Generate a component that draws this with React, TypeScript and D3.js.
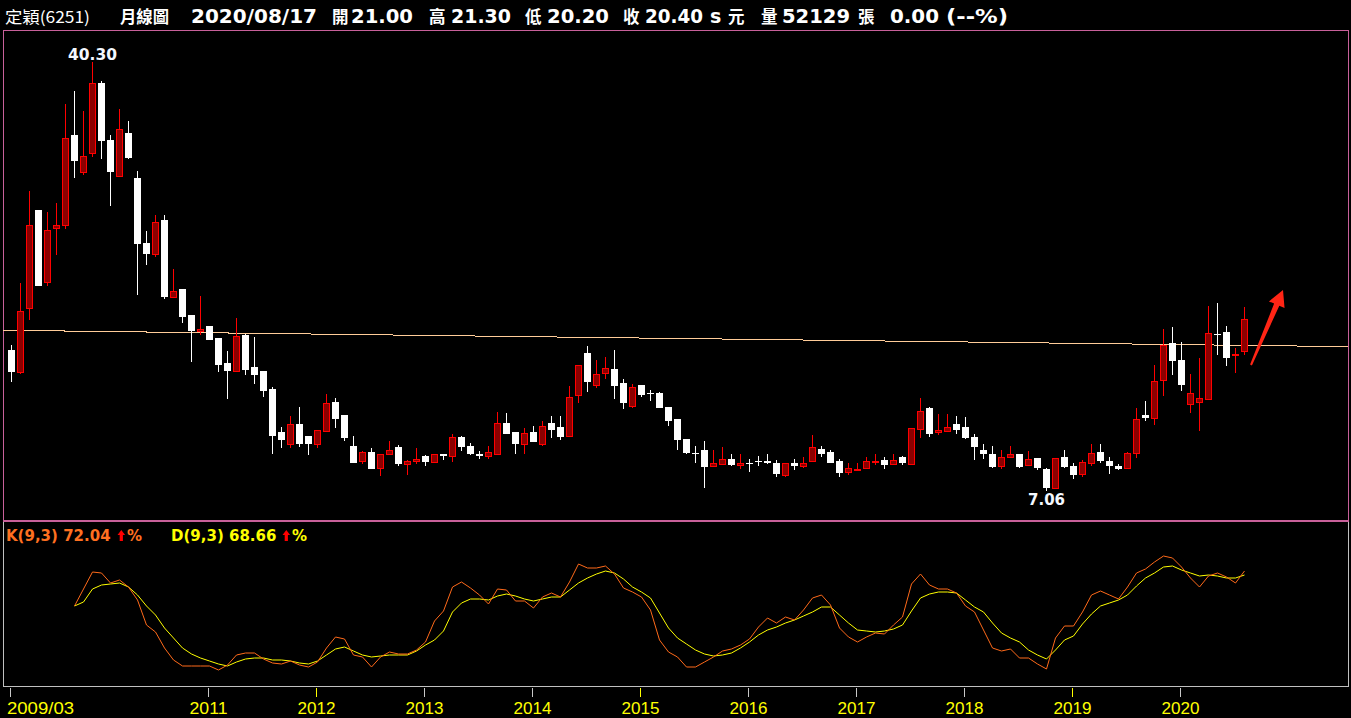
import React, { useEffect } from 'react';
import * as d3 from 'd3';

// ---- categories: monthly candles 2009/03 .. 2020/08
const months: string[] = [];
for (let yr = 2009, m = 3; yr < 2020 || (yr === 2020 && m <= 8); ) {
  months.push(`${yr}/${String(m).padStart(2, '0')}`);
  m++;
  if (m > 12) { m = 1; yr++; }
}

// ---- OHLC series
const openP = [17.93,16.25,21.25,28.81,23.27,27.46,27.69,34.63,31.78,33.26,38.67,34.24,31.47,34.79,31.29,26.24,25.44,28.03,22.07,22.67,
20.65,19.41,19.80,18.86,16.92,16.33,19.10,16.61,16.30,14.90,11.56,10.63,12.19,11.25,10.63,11.67,13.89,12.88,10.48,9.34,
10.01,8.84,9.88,10.40,9.13,9.34,9.70,9.26,9.86,9.73,11.18,10.48,9.93,9.70,9.93,12.26,11.56,10.63,11.56,10.63,
12.26,11.95,11.28,14.46,17.70,15.24,16.17,16.46,15.37,13.61,15.21,14.60,14.59,13.51,12.57,11.02,10.00,10.17,8.95,9.10,
9.47,9.03,9.20,9.33,9.31,9.23,8.25,9.23,8.95,9.34,10.30,10.01,9.31,8.48,8.72,8.77,9.32,9.39,9.10,9.62,
9.10,11.82,13.43,11.56,11.67,12.19,11.95,11.18,10.24,9.93,8.95,9.68,9.93,9.03,9.60,8.74,7.27,9.68,8.98,8.36,
9.21,10.07,9.37,8.98,8.82,9.99,12.88,12.71,15.66,18.53,17.21,13.79,13.95,14.15,19.20,19.33,17.60,17.88];
const highP = [18.32,23.19,30.28,28.81,28.63,29.33,37.04,38.05,36.49,40.30,38.82,34.63,36.65,35.72,31.83,27.17,28.42,28.42,24.22,22.67,
20.70,22.13,19.80,18.86,17.85,20.42,19.17,18.94,16.30,15.06,11.95,12.81,13.51,11.25,11.72,14.52,14.21,12.88,11.25,10.09,
10.32,9.93,10.87,10.56,9.39,10.32,9.78,9.93,9.93,11.41,11.25,10.71,10.09,10.48,13.12,13.04,11.56,11.87,12.03,12.42,
12.81,12.81,15.14,16.77,18.24,17.16,17.39,17.93,15.68,15.29,15.21,14.83,14.67,13.51,12.57,11.02,10.55,10.87,10.17,10.40,
9.86,9.86,9.54,9.70,9.93,9.39,9.23,9.47,9.62,11.33,10.55,10.17,9.47,9.16,9.23,9.62,9.86,9.62,9.86,9.70,
11.87,14.21,13.51,12.96,12.96,12.81,12.73,11.41,10.63,10.48,10.17,10.55,9.93,10.09,9.60,8.82,9.60,10.22,9.21,9.44,
10.69,10.69,9.68,9.13,10.07,13.43,13.97,16.77,19.56,19.72,18.55,16.07,17.37,21.35,21.58,19.80,18.09,21.30];
const lowP = [15.47,16.12,20.32,22.93,22.93,25.31,27.35,31.32,31.55,32.95,32.79,29.14,31.47,32.79,22.23,24.56,25.18,21.89,22.07,20.05,
17.02,19.10,18.71,16.25,14.13,16.25,15.99,15.29,14.28,9.86,10.32,10.32,10.40,9.78,10.32,11.61,11.87,10.87,9.23,9.08,
8.69,8.15,9.88,8.95,8.25,9.10,8.95,9.18,9.39,9.26,10.09,9.78,9.47,9.54,9.93,11.41,9.86,9.93,10.79,10.55,
11.10,10.94,11.28,13.84,14.67,14.98,15.70,14.13,13.37,13.45,14.30,14.00,13.45,12.05,10.19,9.88,9.18,7.24,8.95,9.10,
8.95,8.72,8.48,8.95,9.10,8.10,8.10,8.64,8.79,9.30,9.65,9.23,8.07,8.23,8.64,8.69,9.03,8.72,9.10,9.00,
9.10,11.12,11.20,11.33,11.56,11.43,11.02,9.42,9.54,8.79,8.72,9.62,8.84,9.00,8.64,7.06,7.27,8.82,7.94,8.10,
8.98,9.18,8.33,8.64,8.82,9.60,12.42,12.13,14.38,16.01,14.77,13.06,11.67,14.07,17.57,16.71,16.17,17.54];
const closeP = [16.25,20.96,27.69,22.93,27.30,27.69,34.37,32.64,33.00,38.67,34.19,31.78,35.07,32.87,26.19,25.41,27.85,22.07,22.51,20.52,
19.43,19.56,18.71,16.77,16.30,19.02,16.38,15.99,14.75,11.25,10.94,12.19,10.63,10.63,11.72,13.82,12.57,11.10,9.23,10.01,
8.69,9.93,10.17,9.10,9.31,9.54,9.26,9.86,9.70,11.18,10.40,9.86,9.70,10.01,12.26,11.41,10.63,11.49,10.79,12.03,
11.72,11.18,14.28,16.77,15.45,16.07,16.54,15.17,13.84,15.06,14.46,14.55,13.45,12.44,10.97,9.96,9.95,8.87,9.23,9.47,
9.03,9.23,9.15,9.28,9.16,8.33,9.23,8.95,9.23,10.40,9.93,9.23,8.38,8.77,8.76,9.31,9.36,9.03,9.39,9.16,
11.87,13.25,11.43,11.72,11.95,11.74,11.10,10.43,9.86,8.87,9.62,9.93,8.92,9.54,8.79,7.24,9.60,8.90,8.25,9.29,
9.99,9.34,8.95,8.72,9.99,12.63,12.68,15.53,18.38,17.10,15.24,14.65,14.21,19.31,19.15,17.34,17.64,20.40];

// ---- KD(9,3) series (null before the indicator starts)
const kValues: (number | null)[] = [null,null,null,null,null,null,null,
59.2,72.8,86.4,85.6,77.6,80.0,74.4,64.0,44.0,38.4,25.6,16.0,11.2,11.2,11.2,11.2,8.0,12.0,20.0,21.6,21.6,16.8,13.6,
12.8,15.2,12.0,10.4,14.4,25.6,34.4,32.8,20.0,18.4,10.4,18.4,22.4,20.8,20.8,24.0,30.4,47.2,55.2,74.4,78.4,73.6,68.0,
60.8,72.8,72.0,63.2,63.2,57.6,66.4,69.6,66.4,78.4,92.8,89.6,89.6,91.2,84.8,73.6,70.4,66.4,56.0,32.0,22.4,18.4,10.4,
10.4,14.4,18.4,23.2,24.8,28.0,32.8,42.4,49.6,45.6,50.4,48.0,56.0,65.6,68.0,60.0,41.6,34.4,30.4,34.4,37.6,36.8,44.0,
50.4,76.8,84.8,76.0,72.8,72.8,69.6,59.2,54.4,40.0,25.6,23.2,24.8,17.6,17.6,12.8,8.8,33.6,43.2,43.2,54.4,68.0,71.2,
68.0,64.8,74.4,85.6,88.8,94.4,99.2,97.6,90.4,81.6,74.4,83.2,85.6,82.4,77.6,87.2];
const dValues: (number | null)[] = [null,null,null,null,null,null,null,
59.2,62.4,72.8,76.0,76.8,77.6,74.4,68.0,59.2,52.0,41.6,33.6,25.6,20.8,17.6,15.2,12.8,11.2,14.4,16.8,17.6,17.6,16.0,
16.0,15.2,13.6,12.8,15.2,20.0,24.8,26.4,23.2,20.0,18.4,19.2,20.0,20.0,20.0,23.2,28.0,32.0,39.2,54.4,61.6,64.8,64.8,
64.0,67.2,68.8,67.2,64.8,63.2,64.8,66.4,66.4,72.0,77.6,81.6,84.8,87.2,85.6,80.8,74.4,70.4,65.6,53.6,41.6,33.6,28.8,
24.0,20.8,19.2,20.0,21.6,25.6,30.4,36.0,40.0,42.4,45.6,48.0,51.2,54.4,58.4,58.4,52.0,45.6,40.0,39.2,38.4,39.2,40.8,
44.0,55.2,65.6,68.8,70.4,70.4,69.6,64.0,58.4,54.4,45.6,37.6,33.6,30.4,24.0,20.0,16.8,24.0,32.0,35.2,44.8,52.8,59.2,
61.6,64.0,68.0,75.2,81.6,85.6,90.4,91.2,88.0,85.6,83.2,84.0,83.2,81.6,81.6,84.0];

// ---- axis tick labels and the months they sit on
const tickLabels = ['2009/03', '2011', '2012', '2013', '2014', '2015', '2016', '2017', '2018', '2019', '2020'];
const tickMonths = ['2009/03', '2011/01', '2012/01', '2013/01', '2014/01', '2015/01', '2016/01', '2017/01', '2018/01', '2019/01', '2020/01'];
const yellowTicks = ['2012', '2015', '2019'];

// ---- drawn trend line (month index, price)
const trendIdx = [-0.95, 148.5];
const trendVal = [19.49, 18.22];

// ---- header / legend texts
const stockName = '定穎(6251)';
const chartKind = '月線圖';
const quoteDate = '2020/08/17';
const quoteLabels = ['開', '高', '低', '收'];
const quoteValues = ['21.00', '21.30', '20.20', '20.40'];
const volume = '52129';
const change = '0.00';
const kLegend = 'K(9,3) 72.04';
const dLegend = 'D(9,3) 68.66';
const highLabel = '40.30';
const lowLabel = '7.06';

const W = 1351;
const H = 718;
const NUM = "'DejaVu Sans', Verdana, sans-serif";
const CJK = "'Noto Sans CJK TC', 'Noto Sans CJK SC', sans-serif";
const NARROW = "'Liberation Sans Narrow', 'Liberation Sans', Arial, sans-serif";

function UpArrow({ x0, base }: { x0: number; base: number }) {
  // bold up arrow glyph used in the KD legend
  const pts = [
    [x0 + 2.2, base],
    [x0 + 2.2, base - 6],
    [x0, base - 6],
    [x0 + 3.8, base - 11],
    [x0 + 7.6, base - 6],
    [x0 + 5.4, base - 6],
    [x0 + 5.4, base],
  ]
    .map((p) => p.join(','))
    .join(' ');
  return <polygon points={pts} fill="#FF0000" />;
}

export default function App() {
  useEffect(() => {
    document.body.style.margin = '0';
    document.body.style.background = '#000';
  }, []);

  const n = months.length;
  const x = d3.scaleLinear().domain([0, n - 1]).range([11.5, 11.5 + 9 * (n - 1)]);
  const y = d3.scaleLinear().domain([7.06, 40.3]).range([490.5, 62]);
  const yk = d3.scaleLinear().domain([0, 100]).range([680, 555]);

  const kdLine = d3
    .line<number | null>()
    .defined((d) => d !== null)
    .x((_, i) => x(i))
    .y((d) => yk(d as number));

  const candles = months.map((m, i) => {
    const o = openP[i], h = highP[i], l = lowP[i], c = closeP[i];
    const up = c >= o;
    const cx = Math.round(x(i) - 0.5) + 0.5;
    const top = Math.round(y(Math.max(o, c)));
    const bot = Math.round(y(Math.min(o, c)));
    const bh = Math.max(bot - top, 1);
    const col = up ? '#FF0000' : '#FFFFFF';
    return (
      <g key={m}>
        <line x1={cx} x2={cx} y1={Math.round(y(h))} y2={Math.round(y(l))} stroke={col} strokeWidth={1} />
        {up ? (
          bot - top <= 1 ? (
            <rect x={cx - 3.5} y={top} width={7} height={2} fill="#FF0000" />
          ) : (
            <rect x={cx - 3} y={top + 0.5} width={6} height={bh} fill="#8B0000" stroke="#FF0000" strokeWidth={1} />
          )
        ) : (
          <rect x={cx - 3.5} y={top} width={7} height={bh} fill="#FFFFFF" />
        )}
      </g>
    );
  });

  const hi = d3.maxIndex(highP);
  const lo = d3.minIndex(lowP);

  // arrow geometry (annotation)
  const tail: [number, number] = [1251, 365];
  const tip: [number, number] = [1283, 290];
  const dx = tip[0] - tail[0], dy = tip[1] - tail[1];
  const len = Math.hypot(dx, dy);
  const ux = dx / len, uy = dy / len;
  const px = -uy, py = ux;
  const headLen = 16, headHalf = 8.5;
  const bx = tip[0] - ux * headLen, by = tip[1] - uy * headLen;
  const arrowPts = [
    [tail[0] + px * 1, tail[1] + py * 1],
    [bx + px * 2.8, by + py * 2.8],
    [bx + px * headHalf, by + py * headHalf],
    tip,
    [bx - px * headHalf, by - py * headHalf],
    [bx - px * 2.8, by - py * 2.8],
    [tail[0] - px * 1, tail[1] - py * 1],
  ]
    .map((p) => p.join(','))
    .join(' ');

  const headerNum = { fontFamily: NUM, fontWeight: 700, fontSize: 19, fill: '#fff' } as const;
  const headerCjk = { fontFamily: CJK, fontWeight: 700, fontSize: 16.5, fill: '#fff' } as const;
  const qx = [332, 429, 525, 623];
  const qvx = [351, 451, 547, 645];
  const qvw = [62, 60, 62, 58];
  const legendFont = { fontFamily: NUM, fontWeight: 700, fontSize: 15 } as const;

  return (
    <div style={{ position: 'fixed', left: 0, top: 0 }}>
      <svg width={W} height={H} style={{ display: 'block', background: '#000' }}>
        <rect x={0} y={0} width={W} height={H} fill="#000" />

        {/* header */}
        <text x={5} y={23} textLength={85} lengthAdjust="spacingAndGlyphs" style={{ fontFamily: CJK, fontSize: 16, fill: '#fff' }}>
          {stockName}
        </text>
        <text x={120} y={23} textLength={49} lengthAdjust="spacingAndGlyphs" style={headerCjk}>{chartKind}</text>
        <text x={191} y={23} textLength={126} lengthAdjust="spacingAndGlyphs" style={headerNum}>{quoteDate}</text>
        {quoteLabels.map((lb, i) => (
          <g key={lb}>
            <text x={qx[i]} y={23} style={headerCjk}>{lb}</text>
            <text x={qvx[i]} y={23} textLength={qvw[i]} lengthAdjust="spacingAndGlyphs" style={headerNum}>{quoteValues[i]}</text>
          </g>
        ))}
        <text x={710} y={23} style={headerNum}>s</text>
        <text x={728} y={23} style={headerCjk}>元</text>
        <text x={761} y={23} style={headerCjk}>量</text>
        <text x={782} y={23} textLength={68} lengthAdjust="spacingAndGlyphs" style={headerNum}>{volume}</text>
        <text x={858} y={23} style={headerCjk}>張</text>
        <text x={890} y={23} textLength={49} lengthAdjust="spacingAndGlyphs" style={headerNum}>{change}</text>
        <text x={946} y={23} textLength={62} lengthAdjust="spacingAndGlyphs" style={headerNum}>(--%)</text>

        {/* panels */}
        <rect x={3.5} y={30.5} width={1345} height={490} fill="none" stroke="#C8609A" strokeWidth={1} />
        <rect x={3.5} y={521.5} width={1345} height={165} fill="none" stroke="#C0C0C0" strokeWidth={1} />
        <line x1={3} x2={1349} y1={521.5} y2={521.5} stroke="#C8609A" strokeWidth={1} />

        {/* trend line */}
        <line
          x1={x(trendIdx[0])}
          x2={x(trendIdx[1])}
          y1={y(trendVal[0])}
          y2={y(trendVal[1])}
          stroke="#FFCC99"
          strokeWidth={1}
          shapeRendering="crispEdges"
        />

        {/* candles */}
        <g shapeRendering="crispEdges">{candles}</g>

        {/* high / low labels */}
        <text x={x(hi)} y={60} textAnchor="middle" textLength={49} lengthAdjust="spacingAndGlyphs"
          style={{ fontFamily: NUM, fontWeight: 700, fontSize: 16, fill: '#F4F8FF' }}>{highLabel}</text>
        <text x={x(lo)} y={505} textAnchor="middle" textLength={37} lengthAdjust="spacingAndGlyphs"
          style={{ fontFamily: NUM, fontWeight: 700, fontSize: 16, fill: '#F4F8FF' }}>{lowLabel}</text>

        {/* arrow annotation */}
        <polygon points={arrowPts} fill="#FF2515" />

        {/* KD legend */}
        <text x={6} y={541} style={{ ...legendFont, fill: '#FF7020' }}>{kLegend}</text>
        <UpArrow x0={117.5} base={541} />
        <text x={127} y={541} style={{ ...legendFont, fill: '#FF7020' }}>%</text>
        <text x={171} y={541} style={{ ...legendFont, fill: '#FFFF00' }}>{dLegend}</text>
        <UpArrow x0={282.5} base={541} />
        <text x={292} y={541} style={{ ...legendFont, fill: '#FFFF00' }}>%</text>

        {/* KD lines */}
        <path d={kdLine(dValues) || ''} fill="none" stroke="#FFFF00" strokeWidth={1} />
        <path d={kdLine(kValues) || ''} fill="none" stroke="#FF6A1A" strokeWidth={1} />

        {/* x axis */}
        {tickLabels.map((lb, j) => {
          const idx = months.indexOf(tickMonths[j]);
          const tx = Math.round(x(idx) - 2) + 0.5;
          const first = j === 0;
          return (
            <g key={lb}>
              <line x1={tx} x2={tx} y1={688} y2={697} stroke={yellowTicks.includes(lb) ? '#FFFF00' : '#C8C8C8'} strokeWidth={1} />
              <text
                x={first ? 7 : tx}
                y={714}
                textAnchor={first ? 'start' : 'middle'}
                textLength={first ? 67 : 38}
                lengthAdjust="spacingAndGlyphs"
                style={{ fontFamily: NARROW, fontSize: 17, fill: '#FFFF00' }}
              >
                {lb}
              </text>
            </g>
          );
        })}
      </svg>
    </div>
  );
}
